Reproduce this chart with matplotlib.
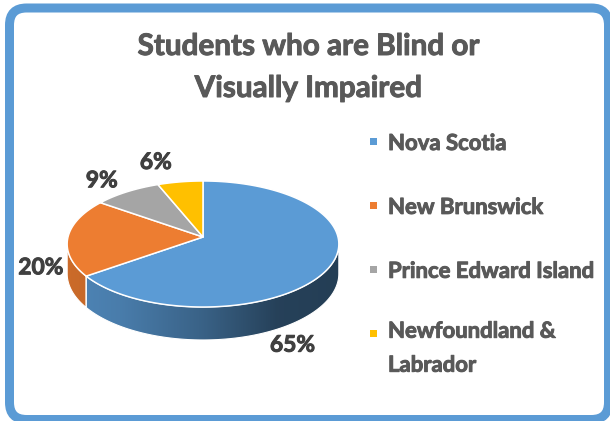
import numpy as np
import matplotlib
matplotlib.use("Agg")
import matplotlib.pyplot as plt
import matplotlib.patheffects as pe
from matplotlib.patches import Polygon, FancyBboxPatch, Rectangle
from matplotlib.font_manager import FontProperties

# ---- data -------------------------------------------------------------
title = "Students who are Blind or\nVisually Impaired"
provinces = ["Nova Scotia", "New Brunswick", "Prince Edward Island",
             "Newfoundland &\nLabrador"]
shares = [65, 20, 9, 6]
slice_colors = ["#5B9BD5", "#ED7D31", "#A5A5A5", "#FFC000"]

# ---- canvas -----------------------------------------------------------
W, H, DPI = 610, 421, 100
FONT = ["Lato", "DejaVu Sans"]
TEXT_GREY = "#595959"
LABEL_GREY = "#404040"
FRAME_BLUE = "#5B9BD5"

fig = plt.figure(figsize=(W / DPI, H / DPI), dpi=DPI)
fig.patch.set_facecolor("white")
bg = fig.add_axes([0, 0, 1, 1])
bg.set_xlim(0, W)
bg.set_ylim(H, 0)
bg.axis("off")

# rounded frame
bg.add_patch(FancyBboxPatch((9.5, 8), 599, 411.5,
                            boxstyle="round,pad=0,rounding_size=17",
                            linewidth=9 * 72 / DPI, edgecolor=FRAME_BLUE,
                            facecolor="white", zorder=0))

# ---- 3-D pie geometry -------------------------------------------------
CX, CY, S = 203, 237, 135      # centre of the pie (px) and px per unit radius
K = 0.461                      # vertical squash of the top face
T = 0.217                      # thickness of the disc
D = 9.0                        # camera distance (perspective)

xl, yl = (-1.12, 1.12), (-0.85, 0.55)
pax = fig.add_axes([(CX + xl[0] * S) / W,
                    (H - (CY - yl[0] * S)) / H,
                    (xl[1] - xl[0]) * S / W,
                    (yl[1] - yl[0]) * S / H])
pax.set_xlim(*xl)
pax.set_ylim(*yl)
pax.axis("off")
pax.patch.set_alpha(0)


def proj(phi_deg, depth=0.0):
    """Project the rim point at angle phi (clockwise from the far side)."""
    p = np.radians(phi_deg)
    f = D / (D + np.cos(p))
    return np.sin(p) * f, K * np.cos(p) * f - depth * f


def arc(a0, a1, depth=0.0):
    ph = np.linspace(a0, a1, max(int(abs(a1 - a0)) * 2, 8))
    x, y = proj(ph, depth)
    return np.column_stack([x, y])


def shade(x):
    return np.interp(x, [-1.0, -0.6, 0.0, 0.55, 1.0],
                     [0.86, 0.80, 0.63, 0.42, 0.40])


total = float(sum(shares))
bounds = np.concatenate([[0.0], np.cumsum(shares) / total * 360.0])
phi_r = np.degrees(np.arccos(-1.0 / D))
phi_l = 360.0 - phi_r

# side walls (front half only)
for i, col in enumerate(slice_colors):
    s0, s1 = max(bounds[i], phi_r), min(bounds[i + 1], phi_l)
    if s1 <= s0:
        continue
    top = arc(s0, s1)
    bot = arc(s0, s1, T)[::-1]
    pts = np.vstack([top, bot])
    wall = Polygon(pts, closed=True, facecolor="none", edgecolor="white",
                   linewidth=0.8, zorder=3)
    pax.add_patch(wall)
    x0, x1 = pts[:, 0].min(), pts[:, 0].max()
    y0, y1 = pts[:, 1].min(), pts[:, 1].max()
    xs = np.linspace(x0, x1, 300)
    rgb = np.array(matplotlib.colors.to_rgb(col))
    img = np.clip(rgb[None, :] * shade(xs)[:, None], 0, 1)[None, :, :]
    im = pax.imshow(np.repeat(img, 2, axis=0), extent=[x0, x1, y0, y1],
                    aspect="auto", interpolation="bilinear", zorder=2)
    im.set_clip_path(wall)

# top faces
for i, col in enumerate(slice_colors):
    pts = np.vstack([[0.0, 0.0], arc(bounds[i], bounds[i + 1])])
    pax.add_patch(Polygon(pts, closed=True, facecolor=col, edgecolor="white",
                          linewidth=1.1, joinstyle="round", zorder=4))

# ---- text -------------------------------------------------------------
renderer = fig.canvas.get_renderer()


def heavy(color):
    return [pe.withStroke(linewidth=0.7, foreground=color)]


def fit_width(txts, ref, target):
    for _ in range(3):
        w = ref.get_window_extent(renderer).width
        fs = ref.get_fontsize() * target / w
        for t in txts:
            t.set_fontsize(fs)
    return ref.get_fontsize()


def line_gap(t, gap_px):
    fp = FontProperties(family=FONT, weight="bold", size=t.get_fontsize())
    w, h, d = renderer.get_text_width_height_descent("lp", fp, ismath=False)
    t.set_linespacing(gap_px / (h - d))


# title (baseline given for the last line)
ttl = bg.text(308, 97, title, ha="center", va="baseline",
              multialignment="center", color=TEXT_GREY,
              family=FONT, weight="bold", fontsize=18,
              path_effects=heavy(TEXT_GREY))
fit_width([ttl], ttl, 342)
line_gap(ttl, 37)

# percentage labels
label_pos = [(292.5, 351.7), (40.8, 274.3), (101.7, 187.3), (155.8, 169.0)]
pct = []
for v, (lx, ly) in zip(shares, label_pos):
    pct.append(bg.text(lx, ly, f"{v / total * 100:.0f}%", ha="center",
                       va="baseline", color=LABEL_GREY, family=FONT,
                       weight="bold", fontsize=16, zorder=6,
                       path_effects=heavy(LABEL_GREY)))
fit_width(pct, pct[0], 45)

# legend
leg_x, leg_y0, leg_dy, wrap_dy = 388, 150, 63.9, 30
leg = []
for j, (name, col) in enumerate(zip(provinces, slice_colors)):
    by = leg_y0 + j * leg_dy
    bg.add_patch(Rectangle((370, by - 12), 6.8, 6.8, facecolor=col,
                           edgecolor="none", zorder=5))
    extra = name.count("\n") * wrap_dy
    leg.append(bg.text(leg_x, by + extra, name, ha="left", va="baseline",
                       color=TEXT_GREY, family=FONT, weight="bold",
                       fontsize=16, path_effects=heavy(TEXT_GREY)))
fit_width(leg, leg[2], 206)
line_gap(leg[3], wrap_dy)

fig.savefig("out.png", dpi=DPI, facecolor="white")
